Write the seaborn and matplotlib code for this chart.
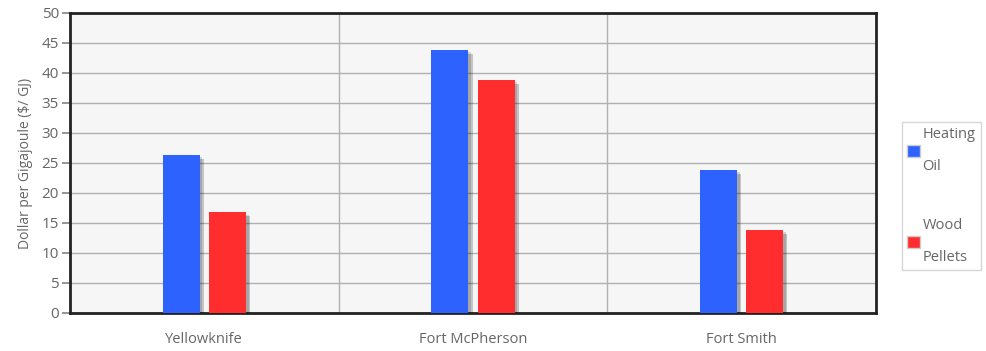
import pandas as pd
import matplotlib
matplotlib.use("Agg")
import matplotlib.pyplot as plt
import matplotlib.patheffects as pe
from matplotlib.patches import Patch
import seaborn as sns

# Chart data
communities = ["Yellowknife", "Fort McPherson", "Fort Smith"]
fuels = ["Heating Oil", "Wood Pellets"]
heating_oil = [26.4, 43.9, 23.9]
wood_pellets = [16.8, 38.9, 13.9]
y_ticks = list(range(0, 51, 5))

colors = {"Heating Oil": "#2e62ff", "Wood Pellets": "#ff2d2d"}
text_color = "#666666"

sns.set_theme(style="white")
plt.rcParams["font.family"] = ["Open Sans", "DejaVu Sans"]

df = pd.DataFrame({
    "community": communities * 2,
    "fuel": [fuels[0]] * 3 + [fuels[1]] * 3,
    "price": heating_oil + wood_pellets,
})

fig = plt.figure(figsize=(9.86, 3.51), dpi=100)
ax = fig.add_axes([70 / 986, 1 - 313 / 351, 806 / 986, 300 / 351])
ax.set_facecolor("#f5f6f5")

sns.barplot(data=df, x="community", y="price", hue="fuel", palette=colors,
            saturation=1, width=0.344, gap=0.2, ax=ax, legend=False, zorder=3)

# soft drop shadow on the bars
for bar in ax.patches:
    bar.set_edgecolor("none")
    bar.set_path_effects([
        pe.SimplePatchShadow(offset=(3, -3), shadow_rgbFace="#000000", alpha=0.2),
        pe.SimplePatchShadow(offset=(2, -2), shadow_rgbFace="#000000", alpha=0.15),
        pe.Normal(),
    ])

ax.set_xlim(-0.5, 2.5)
ax.set_ylim(0, 50)
ax.set_yticks(y_ticks)
ax.yaxis.grid(True, color="#b0b0b0", linewidth=1, zorder=0)

# vertical separators between categories
for xb in [0.5, 1.5]:
    ax.axvline(xb, color="#b0b0b0", linewidth=1, zorder=0)

ax.set_xticks([0, 1, 2])
ax.set_xticklabels(communities)
ax.set_xticks([-0.5, 0.5, 1.5, 2.5], minor=True)
ax.tick_params(axis="x", which="major", length=0, pad=14, labelsize=10.5,
               labelcolor=text_color)
ax.tick_params(axis="x", which="minor", length=5, color="#888888", direction="out")
ax.tick_params(axis="y", length=6, color="#888888", labelsize=11,
               labelcolor=text_color, pad=2, left=True)

ax.set_xlabel("")
ax.set_ylabel("Dollar per Gigajoule ($/ GJ)", color=text_color, fontsize=10, labelpad=6)

for side in ax.spines.values():
    side.set_visible(True)
    side.set_color("#222222")
    side.set_linewidth(2)

handles = [Patch(facecolor=colors[f], edgecolor="#cccccc") for f in fuels]
leg = fig.legend(handles, ["Heating\n\nOil", "Wood\n\nPellets"],
                 loc="upper left", bbox_to_anchor=(902 / 986, 1 - 122 / 351),
                 frameon=True, fancybox=False, fontsize=10.5, labelcolor=text_color,
                 handlelength=0.9, handleheight=0.9, handletextpad=0.15,
                 labelspacing=3.0, borderpad=0.35, borderaxespad=0)
leg.get_frame().set_edgecolor("#cccccc")
leg.get_frame().set_linewidth(1)
for t in leg.get_texts():
    t.set_linespacing(1.1)

fig.savefig("out.png", dpi=100)
